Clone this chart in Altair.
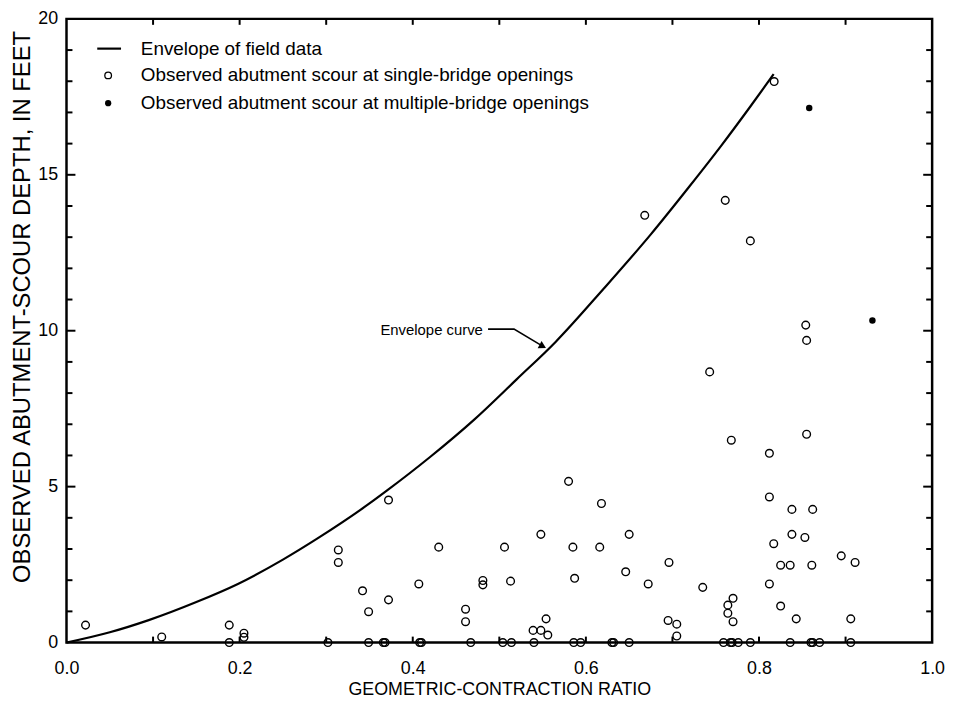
import altair as alt
import pandas as pd

# ---- data ----
single_x = [0.022, 0.110, 0.188, 0.188, 0.205, 0.205, 0.302, 0.314, 0.314, 0.372,
            0.342, 0.349, 0.372, 0.407, 0.430, 0.461, 0.461, 0.481, 0.481, 0.506,
            0.513, 0.548, 0.580, 0.585, 0.587, 0.539, 0.548, 0.556, 0.554,
            0.349, 0.366, 0.368, 0.408, 0.410, 0.467, 0.504, 0.514, 0.540, 0.586,
            0.594, 0.630, 0.632, 0.650, 0.759, 0.767, 0.769, 0.776, 0.790, 0.836,
            0.860, 0.862, 0.870, 0.906,
            0.768, 0.618, 0.650, 0.616, 0.646, 0.696, 0.672, 0.735, 0.770, 0.764,
            0.764, 0.770, 0.695, 0.705, 0.705,
            0.812, 0.812, 0.838, 0.862, 0.838, 0.853, 0.817, 0.825, 0.836, 0.861,
            0.895, 0.911, 0.812, 0.825, 0.843, 0.906, 0.855,
            0.8175, 0.668, 0.761, 0.790, 0.854, 0.855, 0.743]
single_y = [0.56, 0.18, 0.56, 0.0, 0.30, 0.17, 0.0, 2.97, 2.57, 4.57,
            1.66, 0.99, 1.37, 1.88, 3.06, 1.07, 0.67, 1.99, 1.85, 3.06,
            1.97, 3.47, 5.17, 3.06, 2.06, 0.39, 0.39, 0.24, 0.76,
            0.0, 0.0, 0.0, 0.0, 0.0, 0.0, 0.0, 0.0, 0.0, 0.0,
            0.0, 0.0, 0.0, 0.0, 0.0, 0.0, 0.0, 0.0, 0.0, 0.0,
            0.0, 0.0, 0.0, 0.0,
            6.49, 4.46, 3.47, 3.06, 2.27, 2.57, 1.88, 1.77, 1.42, 1.20,
            0.94, 0.67, 0.71, 0.59, 0.21,
            6.07, 4.67, 4.27, 4.27, 3.47, 3.37, 3.17, 2.48, 2.48, 2.48,
            2.78, 2.57, 1.88, 1.17, 0.76, 0.76, 6.68,
            17.99, 13.70, 14.18, 12.88, 10.18, 9.69, 8.68]
multi_x = [0.858, 0.931]
multi_y = [17.14, 10.33]

envelope_x = [0.0, 0.05, 0.095, 0.15, 0.198, 0.25, 0.29, 0.35, 0.37, 0.42,
              0.471, 0.52, 0.565, 0.62, 0.675, 0.72, 0.756, 0.79, 0.817]
envelope_y = [0.0, 0.33, 0.72, 1.30, 1.88, 2.66, 3.34, 4.46, 4.87, 5.95,
              7.15, 8.44, 9.64, 11.33, 13.09, 14.64, 15.92, 17.19, 18.23]

x_ticks = [0.1, 0.2, 0.3, 0.4, 0.5, 0.6, 0.7, 0.8, 0.9]
y_minor = [1, 2, 3, 4, 6, 7, 8, 9, 11, 12, 13, 14, 16, 17, 18, 19]
y_major = [5, 10, 15]
x_labels = [0.0, 0.2, 0.4, 0.6, 0.8, 1.0]
y_labels = [0, 5, 10, 15, 20]

legend_labels = ["Envelope of field data",
                 "Observed abutment scour at single-bridge openings",
                 "Observed abutment scour at multiple-bridge openings"]

annot_text = "Envelope curve"
annot_pos = (0.481, 10.02)
arrow_x = [0.487, 0.517, 0.549]
arrow_y = [10.05, 10.05, 9.52]

W, H = 873, 629
FONT = "Liberation Sans"

single_df = pd.DataFrame({"x": single_x, "y": single_y})
multi_df = pd.DataFrame({"x": multi_x, "y": multi_y})
env_df = pd.DataFrame({"x": envelope_x, "y": envelope_y})

xscale = alt.Scale(domain=[0, 1], nice=False, zero=False)
yscale = alt.Scale(domain=[0, 20], nice=False, zero=False)

X = alt.X("x:Q", scale=xscale,
          axis=alt.Axis(values=x_labels, format=".1f", tickSize=0, domain=False,
                        grid=False, labelPadding=17, labelFontSize=18,
                        labelFlush=False, labelAlign="center",
                        title="GEOMETRIC-CONTRACTION RATIO", titleFontSize=18,
                        titleX=W / 2, titleY=47, titleBaseline="middle",
                        titleAlign="center"))
Y = alt.Y("y:Q", scale=yscale,
          axis=alt.Axis(values=y_labels, format="d", tickSize=0, domain=False,
                        grid=False, labelPadding=9, labelFontSize=18,
                        labelFlush=False, labelBaseline="middle",
                        title="OBSERVED ABUTMENT-SCOUR DEPTH, IN FEET",
                        titleFontSize=24, titleX=-37, titleY=290,
                        titleAngle=-90, titleBaseline="alphabetic",
                        titleAlign="center"))

envelope = alt.Chart(env_df).mark_line(
    color="black", strokeWidth=2.2, interpolate="monotone").encode(
    x=X, y=Y, order="x:Q")

singles = alt.Chart(single_df).mark_point(
    shape="circle", filled=False, color="black", size=60, strokeWidth=1.4,
    opacity=1).encode(x="x:Q", y="y:Q")

multis = alt.Chart(multi_df).mark_point(
    shape="circle", filled=True, color="black", size=42, opacity=1).encode(
    x="x:Q", y="y:Q")

# inward tick marks
xt = pd.DataFrame({"x": x_ticks})
bottom_ticks = alt.Chart(xt).mark_rule(color="black", strokeWidth=2).encode(
    x="x:Q", y=alt.value(H), y2=alt.value(H - 6))
top_ticks = alt.Chart(xt).mark_rule(color="black", strokeWidth=2).encode(
    x="x:Q", y=alt.value(0), y2=alt.value(6))
ymn = pd.DataFrame({"y": y_minor})
ymj = pd.DataFrame({"y": y_major})
left_minor = alt.Chart(ymn).mark_rule(color="black", strokeWidth=2).encode(
    y="y:Q", x=alt.value(0), x2=alt.value(6))
right_minor = alt.Chart(ymn).mark_rule(color="black", strokeWidth=2).encode(
    y="y:Q", x=alt.value(W), x2=alt.value(W - 6))
left_major = alt.Chart(ymj).mark_rule(color="black", strokeWidth=2).encode(
    y="y:Q", x=alt.value(0), x2=alt.value(9))
right_major = alt.Chart(ymj).mark_rule(color="black", strokeWidth=2).encode(
    y="y:Q", x=alt.value(W), x2=alt.value(W - 9))

# custom legend
one = pd.DataFrame({"k": [0]})
leg_line = alt.Chart(one).mark_rule(color="black", strokeWidth=2.2).encode(
    x=alt.value(31), x2=alt.value(55), y=alt.value(30))
leg_open = alt.Chart(one).mark_point(
    shape="circle", filled=False, color="black", size=45, strokeWidth=1.3,
    opacity=1).encode(x=alt.value(42), y=alt.value(57))
leg_fill = alt.Chart(one).mark_point(
    shape="circle", filled=True, color="black", size=40, opacity=1).encode(
    x=alt.value(42), y=alt.value(85))
leg_rows = [30, 57, 85]
leg_texts = [
    alt.Chart(pd.DataFrame({"label": [lab]})).mark_text(
        align="left", baseline="middle", font=FONT, fontSize=19,
        color="black").encode(x=alt.value(75), y=alt.value(ry), text="label:N")
    for lab, ry in zip(legend_labels, leg_rows)
]

# annotation
ann = alt.Chart(pd.DataFrame({"x": [annot_pos[0]], "y": [annot_pos[1]],
                              "t": [annot_text]})).mark_text(
    align="right", baseline="middle", font=FONT, fontSize=15, color="black").encode(
    x="x:Q", y="y:Q", text="t:N")
arrow_df = pd.DataFrame({"x": arrow_x, "y": arrow_y, "o": [0, 1, 2]})
arrow_line = alt.Chart(arrow_df).mark_line(color="black", strokeWidth=1.6).encode(
    x="x:Q", y="y:Q", order="o:Q")
arrow_head = alt.Chart(arrow_df.iloc[[2]]).mark_point(
    shape="triangle", filled=True, color="black", size=70, angle=118,
    opacity=1).encode(x="x:Q", y="y:Q")

chart = alt.layer(
    envelope, singles, multis,
    bottom_ticks, top_ticks, left_minor, right_minor, left_major, right_major,
    leg_line, leg_open, leg_fill, *leg_texts,
    ann, arrow_line, arrow_head,
).properties(
    width=W, height=H,
    autosize=alt.AutoSizeParams(type="none"),
    padding={"left": 59, "top": 8, "right": 16, "bottom": 60},
).configure_view(
    stroke="black", strokeWidth=2.5
).configure_axis(
    labelFont=FONT, titleFont=FONT, labelColor="black", titleColor="black",
    titleFontWeight="normal"
)

chart.save("out.html", embed_options={"renderer": "svg", "actions": False})
